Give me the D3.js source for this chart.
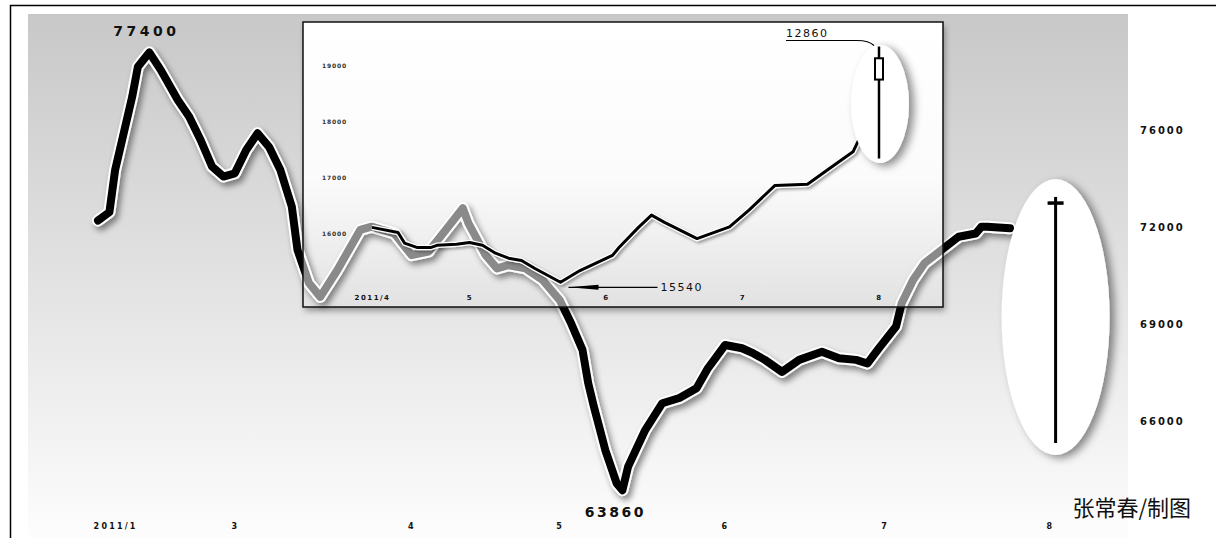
<!DOCTYPE html>
<html><head><meta charset="utf-8">
<script src="https://cdn.jsdelivr.net/npm/d3@7"></script>
<style>body{margin:0;background:#fff}svg{display:block}</style>
</head><body><svg id="c" width="1216" height="538"></svg>
<script>
// ---- main series (trading-day index, price) ----
const mainDays   = [0,2,3,6,7,9,11,14,16,18,20,22,24,26,28,30,32,34,35,37,39,42,44,46,48,52,55,58,61,64,65,68,70,72,75,78,81,83,85,86,87,89,91,92,93,96,99,102,105,107,110,113,115,117,120,123,127,130,133,135,137,140,141,143,145,148,151,154,155,156,160];
const mainPrices = [72200,72460,73760,76030,76960,77400,76860,75930,75410,74690,73870,73560,73660,74380,74900,74480,73760,72630,71290,70270,69840,70670,71290,71910,72010,71800,71130,71240,71910,72580,72110,71130,70720,70820,70720,70360,69740,69020,68200,67170,66440,65100,64070,63860,64590,65720,66550,66710,67010,67630,68350,68250,68090,67890,67520,67890,68140,67940,67890,67780,68250,68920,69640,70360,70880,71290,71700,71800,72010,72010,71960];
const mainCandle = {day:168, high:72930, open:72740, close:72740, low:65320};
const mainYTickValues = [75000,72000,69000,66000];
const mainYTickLabels = ["76000","72000","69000","66000"];
const mainXTickDays   = [3,24,55,81,110,138,167];
const mainXTickLabels = ["2011/1","3","4","5","6","7","8"];
const mainHighLabel = "77400", mainLowLabel = "63860";

// ---- inset series ----
const insetDays   = [0,4,5,7,9,10,13,15,17,19,21,23,25,29,32,37,38,41,43,45,50,55,58,62,67,70,74,75];
const insetPrices = [16100,16010,15820,15740,15740,15780,15800,15830,15780,15640,15550,15510,15370,15120,15330,15600,15740,16100,16320,16190,15900,16110,16410,16850,16870,17120,17450,17690];
const insetCandle = {day:78, high:19330, open:19120, close:18740, low:17330};
const insetYTickValues = [19000,18000,17000,16000];
const insetYTickLabels = ["19000","18000","17000","16000"];
const insetXTickDays   = [0,15,36,57,78];
const insetXTickLabels = ["2011/4","5","6","7","8"];
const insetLowLabel = "15540", insetHighLabel = "12860";
const credit = "张常春/制图";

const svg = d3.select("#c");
const defs = svg.append("defs");
const g1 = defs.append("linearGradient").attr("id","bg").attr("x1",0).attr("y1",0).attr("x2",0).attr("y2",1);
g1.append("stop").attr("offset","0").attr("stop-color","#c8c8c8");
g1.append("stop").attr("offset","0.5").attr("stop-color","#e2e2e2");
g1.append("stop").attr("offset","1").attr("stop-color","#fdfdfd");
const g2 = defs.append("linearGradient").attr("id","ibg").attr("x1",0).attr("y1",0).attr("x2",0).attr("y2",1);
g2.append("stop").attr("offset","0").attr("stop-color","#ffffff");
g2.append("stop").attr("offset","0.55").attr("stop-color","#fbfbfb");
g2.append("stop").attr("offset","1").attr("stop-color","#e2e2e2");
function shadow(id,dx,dy,sd,op){
  const f=defs.append("filter").attr("id",id).attr("x","-30%").attr("y","-30%").attr("width","160%").attr("height","160%");
  f.append("feDropShadow").attr("dx",dx).attr("dy",dy).attr("stdDeviation",sd).attr("flood-color","#000").attr("flood-opacity",op);
}
shadow("ls",3,4,3,0.45); shadow("es",5,3,4,0.45); shadow("bs",2,4,3,0.35); shadow("is",2,2,1.5,0.35);

// scales
const x = d3.scaleLinear().domain([0,160]).range([98,1010]);
const y = d3.scaleLinear().domain([66000,75000]).range([421,130]);
const ix = d3.scaleLinear().domain([0,75]).range([372,859.5]);
const iy = d3.scaleLinear().domain([16000,19000]).range([233,65]);

// frame & background
svg.append("rect").attr("x",28).attr("y",14).attr("width",1100).attr("height",524).attr("fill","url(#bg)");
svg.append("path").attr("d","M10.5,538 V5.5 H1216").attr("fill","none").attr("stroke","#000").attr("stroke-width",1.5);

const mainData = mainDays.map((d,i)=>({d, v:mainPrices[i]}));
const line = d3.line().x(p=>x(p.d)).y(p=>y(p.v));
function drawMain(sel, color, withShadow){
  sel.append("path").attr("d",line(mainData)).attr("fill","none").attr("stroke","#fff")
    .attr("stroke-width",12).attr("stroke-linejoin","round").attr("stroke-linecap","round")
    .attr("filter", withShadow ? "url(#ls)" : null);
  sel.append("path").attr("d",line(mainData)).attr("fill","none").attr("stroke",color)
    .attr("stroke-width",8).attr("stroke-linejoin","round").attr("stroke-linecap","round");
}
drawMain(svg.append("g"), "#000", true);

// right axis
const yAxis = d3.axisRight(y).tickValues(mainYTickValues).tickSize(0).tickFormat((v,i)=>mainYTickLabels[i]);
const ya = svg.append("g").attr("transform","translate(1140,0)").call(yAxis);
ya.select(".domain").remove();
ya.selectAll("text").attr("x",0).attr("dy","0.35em").attr("font-family","DejaVu Sans").attr("font-weight","bold")
  .attr("font-size",10).attr("letter-spacing","2px").attr("fill","#111");

// bottom axis
const xAxis = d3.axisBottom(x).tickValues(mainXTickDays).tickSize(0).tickFormat((v,i)=>mainXTickLabels[i]);
const xa = svg.append("g").attr("transform","translate(0,523)").call(xAxis);
xa.select(".domain").remove();
xa.selectAll("text").attr("y",0).attr("dy","0.71em").attr("font-family","DejaVu Sans").attr("font-weight","bold")
  .attr("font-size",8).attr("letter-spacing","2.2px").attr("fill","#111");

// main annotations
const hiI = mainPrices.indexOf(d3.max(mainPrices)), loI = mainPrices.indexOf(d3.min(mainPrices));
svg.append("text").attr("x",x(mainDays[hiI])-3).attr("y",y(mainPrices[hiI])-16).attr("text-anchor","middle")
  .attr("font-family","DejaVu Sans").attr("font-weight","bold").attr("font-size",14).attr("letter-spacing","3.5px").attr("fill","#111").text(mainHighLabel);
svg.append("text").attr("x",x(mainDays[loI])-7).attr("y",y(mainPrices[loI])+27).attr("text-anchor","middle")
  .attr("font-family","DejaVu Sans").attr("font-weight","bold").attr("font-size",14).attr("letter-spacing","2.5px").attr("fill","#111").text(mainLowLabel);

// main ellipse + candle
const mc = mainCandle;
svg.append("ellipse").attr("cx",x(mc.day)).attr("cy",317).attr("rx",54).attr("ry",138).attr("fill","#fff").attr("filter","url(#es)");
svg.append("line").attr("x1",x(mc.day)).attr("x2",x(mc.day)).attr("y1",y(mc.high)).attr("y2",y(mc.low)).attr("stroke","#000").attr("stroke-width",3);
svg.append("line").attr("x1",x(mc.day)-8).attr("x2",x(mc.day)+8).attr("y1",y(mc.open)).attr("y2",y(mc.close)).attr("stroke","#000").attr("stroke-width",3.5);

// ---- inset ----
const bx0=303,by0=22,bx1=943,by1=307;
svg.append("rect").attr("x",bx0).attr("y",by0).attr("width",bx1-bx0).attr("height",by1-by0).attr("fill","url(#ibg)").attr("filter","url(#bs)");
defs.append("clipPath").attr("id","bc").append("rect").attr("x",bx0).attr("y",by0).attr("width",bx1-bx0).attr("height",by1-by0);
drawMain(svg.append("g").attr("clip-path","url(#bc)"), "#8a8a8a", true);
svg.append("rect").attr("x",bx0).attr("y",by0).attr("width",bx1-bx0).attr("height",by1-by0).attr("fill","none").attr("stroke","#111").attr("stroke-width",1.5);

const iyAxis = d3.axisLeft(iy).tickValues(insetYTickValues).tickSize(0).tickFormat((v,i)=>insetYTickLabels[i]);
const iya = svg.append("g").attr("transform","translate(322,0)").call(iyAxis);
iya.select(".domain").remove();
iya.selectAll("text").attr("x",0).attr("text-anchor","start").attr("dy","0.35em").attr("font-family","DejaVu Sans").attr("font-weight","bold")
  .attr("font-size",6).attr("letter-spacing","0.8px").attr("fill","#333");
const ixAxis = d3.axisBottom(ix).tickValues(insetXTickDays).tickSize(0).tickFormat((v,i)=>insetXTickLabels[i]);
const ixa = svg.append("g").attr("transform","translate(0,295)").call(ixAxis);
ixa.select(".domain").remove();
ixa.selectAll("text").attr("y",0).attr("dy","0.71em").attr("font-family","DejaVu Sans").attr("font-weight","bold")
  .attr("font-size",7).attr("letter-spacing","1.5px").attr("fill","#111");

const insetData = insetDays.map((d,i)=>({d,v:insetPrices[i]}));
const iline = d3.line().x(p=>ix(p.d)).y(p=>iy(p.v));
svg.append("path").attr("d",iline(insetData)).attr("fill","none").attr("stroke","#fff").attr("stroke-width",5.5)
  .attr("stroke-linejoin","round").attr("filter","url(#is)");
svg.append("path").attr("d",iline(insetData)).attr("fill","none").attr("stroke","#000").attr("stroke-width",3).attr("stroke-linejoin","round");

// inset ellipse + candle
const ic = insetCandle;
svg.append("ellipse").attr("cx",ix(ic.day)+1).attr("cy",104).attr("rx",29).attr("ry",59).attr("fill","#fff").attr("filter","url(#es)");
svg.append("line").attr("x1",ix(ic.day)).attr("x2",ix(ic.day)).attr("y1",iy(ic.high)).attr("y2",iy(ic.low)).attr("stroke","#000").attr("stroke-width",2.5);
svg.append("rect").attr("x",ix(ic.day)-4).attr("y",iy(ic.open)).attr("width",8).attr("height",iy(ic.close)-iy(ic.open))
  .attr("fill","#fff").attr("stroke","#000").attr("stroke-width",2);

// inset annotations
const iLo = insetPrices.indexOf(d3.min(insetPrices));
const lx = ix(insetDays[iLo]), ly = iy(insetPrices[iLo]);
svg.append("line").attr("x1",lx+8).attr("x2",lx+97).attr("y1",ly+5).attr("y2",ly+5).attr("stroke","#000").attr("stroke-width",1.2);
svg.append("path").attr("d",`M${lx+8},${ly+5} L${lx+38},${ly+2.5} L${lx+38},${ly+7.5} Z`).attr("fill","#000");
svg.append("text").attr("x",lx+100).attr("y",ly+8.5).attr("font-family","DejaVu Sans").attr("font-size",11)
  .attr("letter-spacing","1.5px").attr("fill","#111").text(insetLowLabel);
const hx = ix(ic.day), hy = iy(ic.high);
svg.append("path").attr("d",`M${hx-93},${hy-6} H${hx-22} Q${hx-10},${hy-6} ${hx-5},${hy-1}`).attr("fill","none").attr("stroke","#000").attr("stroke-width",1.2);
svg.append("text").attr("x",hx-93).attr("y",hy-10).attr("font-family","DejaVu Sans").attr("font-size",11)
  .attr("letter-spacing","1.5px").attr("fill","#111").text(insetHighLabel);

// credit
svg.append("text").attr("x",1191).attr("y",516).attr("text-anchor","end").attr("font-family","Noto Sans CJK SC")
  .attr("font-size",22).attr("fill","#111").text(credit);
</script></body></html>
